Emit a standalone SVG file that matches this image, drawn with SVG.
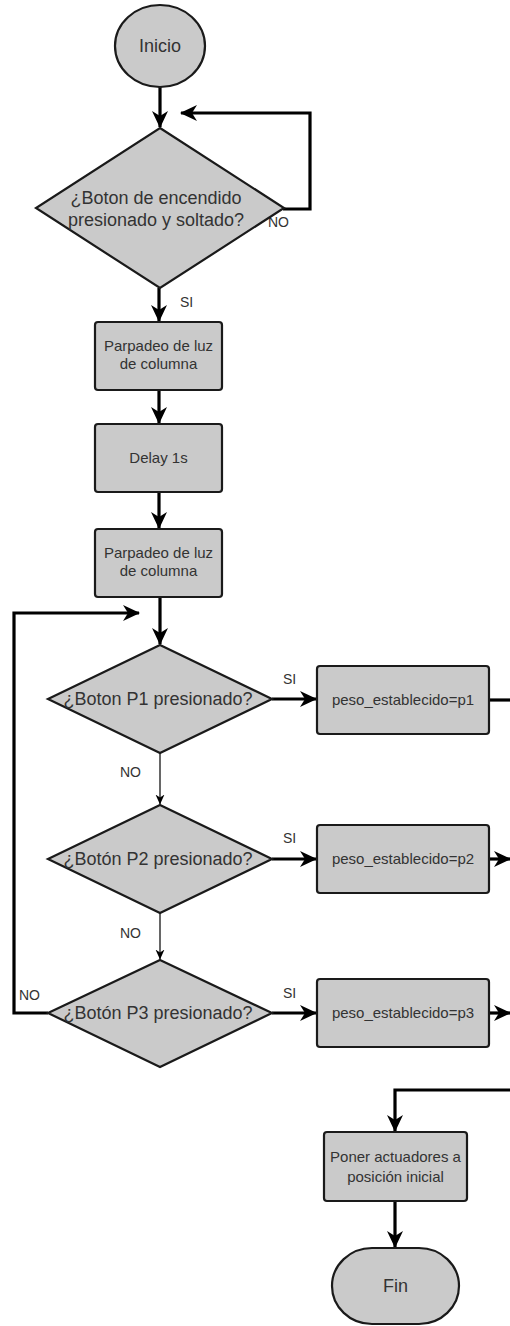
<svg xmlns="http://www.w3.org/2000/svg" width="510" height="1326" viewBox="0 0 510 1326">
  <style>
    .shape { fill: #cacaca; stroke: #1a1a1a; stroke-width: 2.2; }
    .label { font-family: "Liberation Sans", Arial, sans-serif; fill: #333; text-anchor: middle; }
    .big { font-size: 18px; }
    .small { font-size: 15px; }
    .edge { font-family: "Liberation Sans", Arial, sans-serif; font-size: 14px; fill: #333; }
    .thick { fill: none; stroke: #000; stroke-width: 3.2; }
    .thin { fill: none; stroke: #000; stroke-width: 1.2; }
  </style>
  <defs>
    <marker id="arrow" markerUnits="userSpaceOnUse" markerWidth="18" markerHeight="18" viewBox="0 0 18 18" refX="16" refY="9" orient="auto">
      <path d="M0,1 L17,9 L0,17 L5,9 Z" fill="#000"/>
    </marker>
    <marker id="arrowThin" markerUnits="userSpaceOnUse" markerWidth="10" markerHeight="10" viewBox="0 0 10 10" refX="9.5" refY="5" orient="auto">
      <path d="M0,0.5 L10,5 L0,9.5 L3,5 Z" fill="#000"/>
    </marker>
  </defs>

  <!-- connectors -->
  <g id="connectors">
    <path class="thick" d="M160,87 L160,127" marker-end="url(#arrow)"/>
    <path class="thick" d="M283,209 L310,209 L310,113 L181,113" marker-end="url(#arrow)"/>
    <path class="thick" d="M159,288 L159,321" marker-end="url(#arrow)"/>
    <path class="thick" d="M159,390 L159,423" marker-end="url(#arrow)"/>
    <path class="thick" d="M159,492 L159,528" marker-end="url(#arrow)"/>
    <path class="thick" d="M160,597 L160,644" marker-end="url(#arrow)"/>
    <path class="thick" d="M272,699 L316,699" marker-end="url(#arrow)"/>
    <path class="thick" d="M489,700 L512,700"/>
    <path class="thin" d="M160,753 L160,804" marker-end="url(#arrowThin)"/>
    <path class="thick" d="M272,859 L316,859" marker-end="url(#arrow)"/>
    <path class="thick" d="M489,859 L510,859" marker-end="url(#arrow)"/>
    <path class="thin" d="M160,913 L160,959" marker-end="url(#arrowThin)"/>
    <path class="thick" d="M272,1013 L316,1013" marker-end="url(#arrow)"/>
    <path class="thick" d="M489,1013 L510,1013" marker-end="url(#arrow)"/>
    <path class="thick" d="M48,1013 L14,1013 L14,613 L139,613" marker-end="url(#arrow)"/>
    <path class="thick" d="M512,1090 L395,1090 L395,1131" marker-end="url(#arrow)"/>
    <path class="thick" d="M395,1201 L395,1247" marker-end="url(#arrow)"/>
    <text class="edge" x="268" y="227">NO</text>
    <text class="edge" x="180" y="307">SI</text>
    <text class="edge" x="283" y="684">SI</text>
    <text class="edge" x="120" y="777">NO</text>
    <text class="edge" x="283" y="843">SI</text>
    <text class="edge" x="120" y="938">NO</text>
    <text class="edge" x="283" y="998">SI</text>
    <text class="edge" x="19" y="1000">NO</text>
  </g>

  <g id="inicio">
    <ellipse class="shape" cx="160" cy="46" rx="45" ry="41"/>
    <text class="label big" x="160" y="52">Inicio</text>
  </g>

  <g id="boton-encendido">
    <polygon class="shape" points="160,128 284,208 160,288 36,208"/>
    <text class="label big" x="156" y="204">¿Boton de encendido</text>
    <text class="label big" x="156" y="226">presionado y soltado?</text>
  </g>

  <g id="parpadeo-1">
    <rect class="shape" x="95" y="322" width="127" height="68" rx="3"/>
    <text class="label small" x="158.5" y="351">Parpadeo de luz</text>
    <text class="label small" x="158.5" y="369">de columna</text>
  </g>

  <g id="delay">
    <rect class="shape" x="95" y="424" width="127" height="68" rx="3"/>
    <text class="label small" x="158.5" y="463">Delay 1s</text>
  </g>

  <g id="parpadeo-2">
    <rect class="shape" x="95" y="529" width="127" height="68" rx="3"/>
    <text class="label small" x="158.5" y="558">Parpadeo de luz</text>
    <text class="label small" x="158.5" y="576">de columna</text>
  </g>

  <g id="boton-p1">
    <polygon class="shape" points="160,645 272,699 160,753 48,699"/>
    <text class="label big" x="158" y="705">¿Boton P1 presionado?</text>
  </g>

  <g id="peso-p1">
    <rect class="shape" x="317" y="666" width="172" height="68" rx="3"/>
    <text class="label small" x="403" y="705">peso_establecido=p1</text>
  </g>

  <g id="boton-p2">
    <polygon class="shape" points="160,805 272,859 160,913 48,859"/>
    <text class="label big" x="158" y="865">¿Botón P2 presionado?</text>
  </g>

  <g id="peso-p2">
    <rect class="shape" x="317" y="825" width="172" height="68" rx="3"/>
    <text class="label small" x="403" y="864">peso_establecido=p2</text>
  </g>

  <g id="boton-p3">
    <polygon class="shape" points="160,960 272,1013 160,1067 48,1013"/>
    <text class="label big" x="158" y="1019">¿Botón P3 presionado?</text>
  </g>

  <g id="peso-p3">
    <rect class="shape" x="317" y="979" width="172" height="68" rx="3"/>
    <text class="label small" x="403" y="1018">peso_establecido=p3</text>
  </g>

  <g id="actuadores">
    <rect class="shape" x="324" y="1132" width="143" height="69" rx="3"/>
    <text class="label small" x="395.5" y="1162">Poner actuadores a</text>
    <text class="label small" x="395.5" y="1182">posición inicial</text>
  </g>

  <g id="fin">
    <rect class="shape" x="332" y="1248" width="127" height="76" rx="40" ry="38"/>
    <text class="label big" x="395.5" y="1292">Fin</text>
  </g>
</svg>
